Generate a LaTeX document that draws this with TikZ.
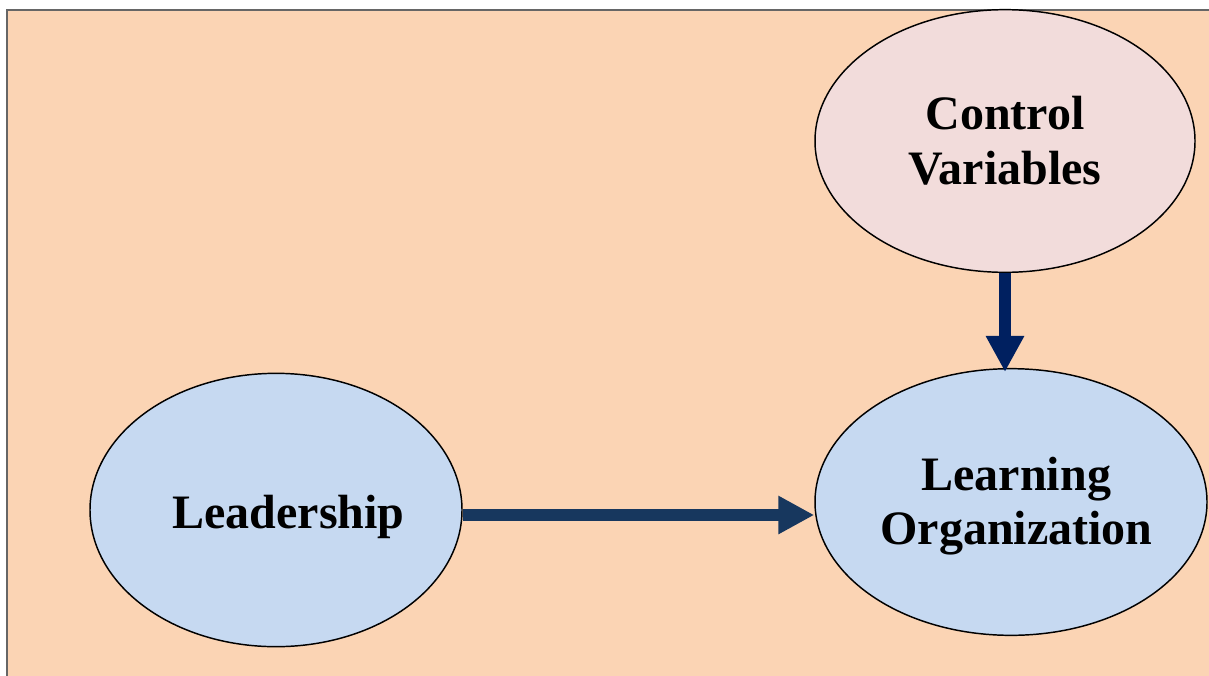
\documentclass[tikz,border=0pt]{standalone}
\usepackage{fontspec}
\setmainfont{Liberation Serif}
\usetikzlibrary{arrows.meta}
\usetikzlibrary{shapes.geometric}
\definecolor{peach}{HTML}{FBD4B4}
\definecolor{paleblue}{HTML}{C6D9F1}
\definecolor{palepink}{HTML}{F2DCDB}
\definecolor{navy}{HTML}{002060}
\definecolor{darknavy}{HTML}{17375E}
\tikzset{>=latex}
\tikzset{
  var/.style={ellipse,draw=black,line width=1.1pt,inner sep=0pt},
  vartext/.style={align=center,font=\fontsize{36}{41}\selectfont\bfseries},
  bigarrow/.style={line width=8.6pt,-{Triangle[length=27pt,width=27pt]}}
}

\begin{document}
\begin{tikzpicture}[x=0.75pt,y=-0.75pt]
      \useasboundingbox (0,0) rectangle (1209,675);
      \filldraw[fill=peach,draw=black!60,line width=0.9pt] (7,10) rectangle (1230,700);
      \node[var,fill=paleblue,minimum width=279pt,minimum height=205pt,
        label={[vartext,xshift=9.5pt,yshift=-5pt]center:Leadership}] (L) at (276,510) {};
      \node[var,fill=paleblue,minimum width=294pt,minimum height=200pt,
        label={[vartext,xshift=4pt,yshift=-3pt]center:Learning\\Organization}] (O) at (1011,502) {};
      \node[var,vartext,fill=palepink,minimum width=285pt,minimum height=197pt] (C) at (1005,141) {Control\\Variables};
      \coordinate (h) at (0,515);
      \draw[bigarrow,darknavy] (L.east |- h) -- (O.west |- h);
      \draw[bigarrow,navy] (C.south) -- ([yshift=-3pt]C.south |- O.north);
    \end{tikzpicture}
\end{document}
